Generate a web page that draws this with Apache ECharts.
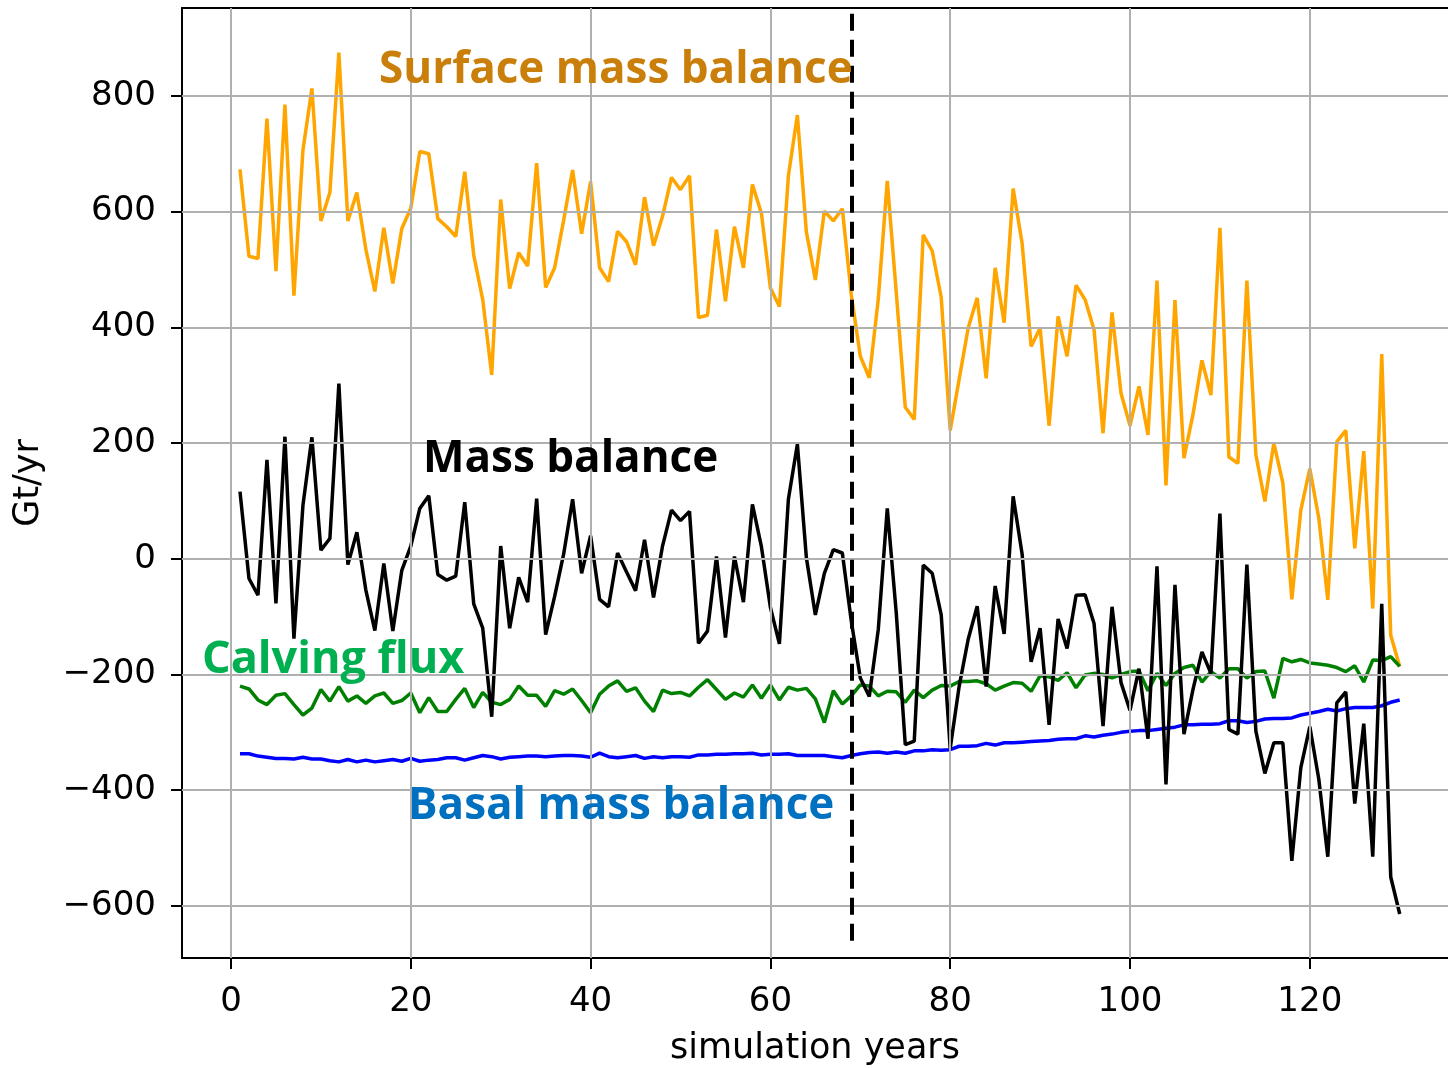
<!DOCTYPE html>
<html>
<head>
<meta charset="utf-8">
<script src="https://cdn.jsdelivr.net/npm/echarts@6/dist/echarts.min.js"></script>
<style>
html,body{margin:0;padding:0;background:#fff;}
#chart{width:1448px;height:1068px;}
</style>
</head>
<body>
<div id="chart"></div>
<script>
// ---- data ----
var years = [];
for (var i = 1; i <= 130; i++) years.push(i);

var surfaceMassBalance = [
673,523,519,761,497,785,455,706,813,584,
633,875,584,633,535,462,572,476,571,606,
704,700,588,574,557,669,525,448,318,621,
467,529,506,684,469,503,585,672,562,652,
503,479,566,548,508,625,541,592,659,638,
662,417,421,569,445,574,503,647,597,468,
436,662,767,565,482,601,584,605,456,350,
313,449,653,460,262,241,560,532,452,222,
311,399,451,312,503,408,640,545,367,399,
230,419,350,473,448,396,217,426,286,230,
298,214,481,127,447,174,249,343,283,572,
176,165,481,180,99,200,131,-70,84,156,
70,-71,202,222,18,186,-86,354,-132,-186
];

var massBalance = [
116,-34,-63,171,-77,211,-138,92,210,15,
35,303,-10,46,-54,-124,-8,-125,-20,22,
87,109,-27,-37,-30,98,-78,-120,-273,22,
-120,-32,-75,104,-131,-65,8,103,-25,40,
-70,-83,10,-23,-55,33,-67,22,84,66,
82,-146,-125,4,-136,4,-75,94,21,-84,
-147,103,198,2,-97,-25,16,10,-108,-206,
-238,-122,87,-94,-321,-315,-11,-25,-97,-328,
-220,-139,-82,-221,-47,-130,108,8,-178,-120,
-287,-104,-155,-63,-62,-112,-289,-83,-214,-262,
-190,-311,-13,-390,-45,-303,-226,-161,-198,78,
-295,-303,-10,-298,-371,-318,-318,-522,-361,-290,
-381,-515,-249,-230,-423,-285,-515,-78,-550,-614
];

var calvingFlux = [
-220,-225,-244,-252,-236,-233,-252,-270,-258,-226,
-246,-221,-246,-237,-250,-237,-232,-250,-245,-232,
-266,-240,-264,-264,-243,-224,-257,-231,-248,-252,
-243,-220,-236,-236,-255,-228,-234,-225,-245,-266,
-234,-220,-211,-229,-223,-246,-264,-227,-233,-231,
-237,-222,-209,-226,-243,-232,-239,-218,-241,-218,
-244,-222,-227,-224,-242,-283,-228,-251,-237,-218,
-220,-237,-229,-230,-248,-227,-240,-227,-219,-220,
-212,-212,-211,-216,-227,-220,-214,-215,-229,-202,
-204,-210,-197,-223,-201,-198,-200,-206,-200,-195,
-194,-228,-198,-219,-198,-188,-184,-213,-195,-206,
-190,-190,-206,-195,-194,-241,-172,-178,-174,-180,
-182,-184,-188,-195,-185,-213,-175,-176,-169,-186
];

var basalMassBalance = [
-337,-337,-341,-343,-345,-345,-346,-343,-346,-346,
-349,-351,-347,-351,-348,-351,-349,-347,-350,-345,
-350,-348,-347,-344,-344,-348,-344,-340,-342,-346,
-343,-342,-341,-341,-342,-341,-340,-340,-341,-343,
-336,-342,-344,-342,-340,-345,-342,-344,-342,-342,
-343,-339,-339,-338,-338,-337,-337,-336,-339,-338,
-338,-337,-340,-340,-340,-340,-342,-344,-340,-337,
-335,-334,-336,-334,-336,-332,-332,-330,-331,-330,
-324,-324,-323,-319,-322,-318,-318,-317,-316,-315,
-314,-312,-311,-311,-306,-308,-305,-303,-300,-298,
-297,-297,-295,-293,-291,-287,-287,-286,-286,-285,
-280,-280,-283,-281,-277,-276,-276,-275,-270,-267,
-264,-260,-263,-259,-257,-257,-257,-254,-248,-244
];

var xTicks = [0, 20, 40, 60, 80, 100, 120];
var yTicks = [-600, -400, -200, 0, 200, 400, 600, 800];
var dividerYear = 69;

// ---- build ----
function pairs(vals) {
  return years.map(function (y, i) { return [y, vals[i]]; });
}

var chart = echarts.init(document.getElementById('chart'), null, {renderer: 'canvas'});

var gridLines = xTicks.map(function (v) { return {xAxis: v}; })
  .concat(yTicks.map(function (v) { return {yAxis: v}; }));

function lineSeries(name, vals, color, z) {
  return {
    name: name, type: 'line', data: pairs(vals), showSymbol: false, symbol: 'none',
    lineStyle: {color: color, width: 3.5}, z: z, animation: false, silent: true
  };
}

var X_MIN = -5.45, X_MAX = 135.37;

var option = {
  animation: false,
  backgroundColor: '#ffffff',
  grid: {left: 182, top: 8, right: 0, bottom: 110, containLabel: false, outerBoundsMode: 'none'},
  xAxis: [{
    type: 'value', min: X_MIN, max: X_MAX, position: 'bottom',
    axisLine: {show: true, onZero: false, lineStyle: {color: '#000', width: 2}},
    axisTick: {show: true, customValues: xTicks, length: 11, lineStyle: {color: '#000', width: 2}},
    axisLabel: {customValues: xTicks, fontSize: 34, fontFamily: 'DejaVu Sans', color: '#000', margin: 27},
    splitLine: {show: false},
    name: 'simulation years', nameLocation: 'middle', nameGap: 73,
    nameTextStyle: {fontSize: 35, fontFamily: 'DejaVu Sans', color: '#000'}
  }, {
    type: 'value', min: X_MIN, max: X_MAX, position: 'top',
    axisLine: {show: true, onZero: false, lineStyle: {color: '#000', width: 2}},
    axisTick: {show: false}, axisLabel: {show: false}, splitLine: {show: false}
  }],
  yAxis: [{
    type: 'value', min: -690, max: 952, position: 'left',
    axisLine: {show: true, onZero: false, lineStyle: {color: '#000', width: 2}},
    axisTick: {show: true, customValues: yTicks, length: 11, lineStyle: {color: '#000', width: 2}},
    axisLabel: {customValues: yTicks, fontSize: 34, fontFamily: 'DejaVu Sans', color: '#000', margin: 26,
      formatter: function (v) { return v < 0 ? '\u2212' + Math.abs(v) : String(v); }},
    splitLine: {show: false},
    name: 'Gt/yr', nameLocation: 'middle', nameGap: 136, nameRotate: 90,
    nameTextStyle: {fontSize: 35, fontFamily: 'DejaVu Sans', color: '#000'}
  }],
  series: [
    {
      type: 'line', data: [], z: 1, silent: true, animation: false,
      markLine: {
        silent: true, animation: false, symbol: ['none', 'none'],
        label: {show: false},
        lineStyle: {color: '#b0b0b0', width: 2, type: 'solid'},
        emphasis: {disabled: true},
        data: gridLines
      }
    },
    lineSeries('Surface mass balance', surfaceMassBalance, '#ffa500', 3),
    lineSeries('Mass balance', massBalance, '#000000', 4),
    lineSeries('Calving flux', calvingFlux, '#008000', 3),
    lineSeries('Basal mass balance', basalMassBalance, '#0000ff', 3),
    {
      type: 'line', data: [], z: 6, silent: true, animation: false,
      markLine: {
        silent: true, animation: false, symbol: ['none', 'none'],
        label: {show: false},
        lineStyle: {color: '#000', width: 4, type: [17, 9]},
        emphasis: {disabled: true},
        data: [[{coord: [dividerYear, 942]}, {coord: [dividerYear, -672]}]]
      }
    }
  ],
  graphic: [
    {type: 'text', left: 379, top: 48, z: 10, style: {text: 'Surface mass balance', font: 'bold 44px "Open Sans"', fill: '#c97f0a'}},
    {type: 'text', left: 423, top: 437, z: 10, style: {text: 'Mass balance', font: 'bold 44px "Open Sans"', fill: '#000000'}},
    {type: 'text', left: 202, top: 638, z: 10, style: {text: 'Calving flux', font: 'bold 45px "Open Sans"', fill: '#00b050'}},
    {type: 'text', left: 408, top: 784, z: 10, style: {text: 'Basal mass balance', font: 'bold 44px "Open Sans"', fill: '#0070c0'}}
  ]
};
chart.setOption(option);
</script>
</body>
</html>
